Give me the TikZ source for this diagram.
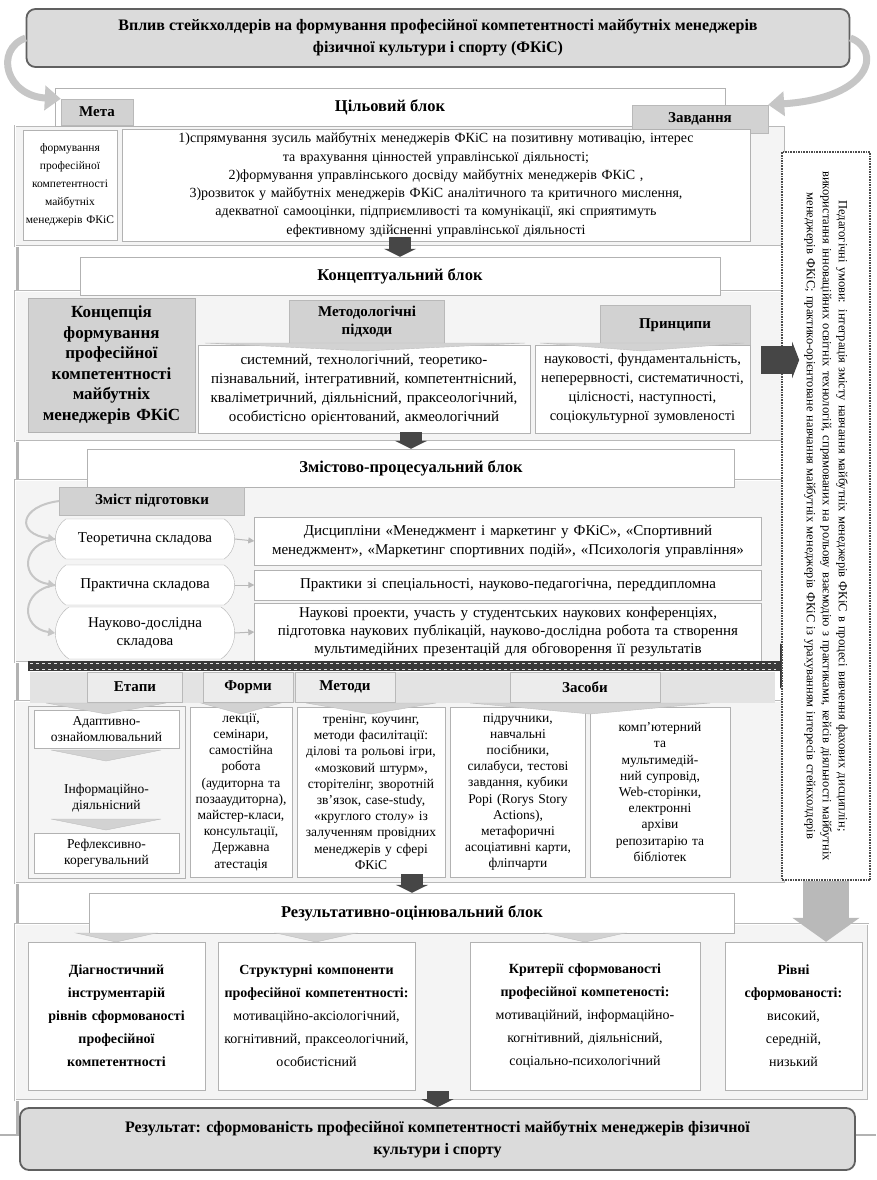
\documentclass[tikz,border=0pt]{standalone}
\usepackage{fontspec}
\setmainfont{Liberation Serif}
\usetikzlibrary{shapes.misc,arrows.meta,positioning}

\begin{document}
\begin{tikzpicture}
[x=1pt,y=-1pt,
  titleDecorate/.style={draw=gray!75!black,line width=1.8pt,fill=gray!28,rounded corners=9pt,align=center,font=\fontsize{16}{22}\selectfont\bfseries},
  frameDecorate/.style={draw=gray!55,double,double distance=1pt,fill=gray!9},
  headDecorate/.style={draw=gray!60,fill=white,minimum height=38,font=\fontsize{16.5}{20}\selectfont\bfseries},
  tabDecorate/.style={draw=gray!55,fill=gray!35,align=center,font=\fontsize{15}{18}\selectfont\bfseries},
  boxDecorate/.style={draw=gray!60,fill=white,align=center,inner sep=3pt,font=\fontsize{15}{19}\selectfont},
  colDecorate/.style={boxDecorate,font=\fontsize{13.5}{16.2}\selectfont},
  resDecorate/.style={boxDecorate,font=\fontsize{14}{23}\selectfont},
  partDecorate/.style={rounded rectangle,rounded rectangle arc length=110,draw=gray!60,fill=white,align=center,minimum width=186,font=\fontsize{15}{18}\selectfont},
  condDecorate/.style={rotate=-90,draw=gray!60!black,densely dotted,line width=1.6pt,fill=white,text width=720pt,minimum height=88,align=center,inner sep=4pt,font=\fontsize{12.5}{16}\selectfont},
  blockArrow/.style={draw=gray!55!black,line width=22pt,-{Triangle[length=8pt,width=32pt]}},
  sideLine/.style={draw=gray!55!black,line width=28pt,-{Triangle[length=7pt,width=36pt]}},
  bigArrow/.style={draw=gray!55,line width=46pt,-{Triangle[length=24pt,width=66pt]}},
  curveArrow/.style={draw=gray!45,line width=7pt,-{Triangle[length=16pt,width=24pt]}},
  bandArrow/.style={draw=gray!45!black,line width=10pt,-{Triangle[length=22pt,width=44pt]}},
  loopArrow/.style={draw=gray!45,line width=2pt,-{Triangle[length=7pt,width=8pt]}},
  smallArrow/.style={draw=gray!55,line width=1pt,-{Triangle[length=6pt,width=6pt]}},
  chevDecorate/.style={fill=gray!35,draw=gray!50}]
\useasboundingbox[fill=white] (0,0) rectangle (876,1180);

%% outer lines
\draw[gray!60,line width=3pt] (17,128) -- (17,1135);
\draw[gray!60,line width=1.5pt] (0,1135) -- (876,1135);

%% title
\node (title) at (438,38) [titleDecorate,minimum width=823,minimum height=58]
  {Вплив стейкхолдерів на формування професійної компетентності майбутніх менеджерів\\
   фізичної культури і спорту (ФКіС)};

%% goal block
\node (goalFrame) at (400,186) [frameDecorate,minimum width=770,minimum height=120] {};
\node (goalHead) at (390,107) [headDecorate,minimum width=670] {Цільовий блок};
\node (metaTab) at (97,112) [tabDecorate,minimum width=72,minimum height=26] {Мета};
\node (taskTab) at (700,119) [tabDecorate,minimum width=136,minimum height=28] {Завдання};
\node (goalBox) at (70,185) [boxDecorate,text width=92pt,minimum height=110,inner sep=1pt,font=\fontsize{11.5}{18}\selectfont]
  {формування\\професійної\\компетентності\\майбутніх\\менеджерів ФКіС};
\node (taskBox) at (436,185) [boxDecorate,text width=622pt,minimum height=112,font=\fontsize{14}{18.3}\selectfont]
  {1)спрямування зусиль майбутніх менеджерів ФКіС на позитивну мотивацію, інтерес\\
   та врахування цінностей управлінської діяльності;\\
   2)формування управлінського досвіду майбутніх менеджерів ФКіС ,\\
   3)розвиток у майбутніх менеджерів ФКіС аналітичного та критичного мислення,\\
   адекватної самооцінки, підприємливості та комунікації, які сприятимуть\\
   ефективному здійсненні управлінської діяльності};
\draw[curveArrow] (title.west) .. controls (-6,50) and (6,96) .. (metaTab.north west);
\draw[curveArrow] (title.east) .. controls (882,50) and (872,98) .. (taskTab.north east);

%% conceptual block
\node (conceptFrame) at (400,366) [frameDecorate,minimum width=770,minimum height=150] {};
\node (conceptHead) at (400,276) [headDecorate,minimum width=640] {Концептуальний блок};
\node (conceptBox) at (111.5,365) [boxDecorate,fill=gray!35,text width=161pt,minimum height=134,font=\fontsize{17}{20.5}\selectfont\bfseries]
  {Концепція\\формування\\професійної\\компетентності\\майбутніх\\менеджерів ФКіС};
\node (methTab) at (367,322) [tabDecorate,minimum width=155,minimum height=44] {Методологічні\\підходи};
\node (princTab) at (675,325) [tabDecorate,minimum width=150,minimum height=40] {Принципи};
\node (methBox) at (364,389) [boxDecorate,text width=326pt,minimum height=88]
  {системний, технологічний, теоретико-\\пізнавальний, інтегративний, компетентнісний,\\
   кваліметричний, діяльнісний, праксеологічний,\\особистісно орієнтований, акмеологічний};
\node (princBox) at (642.5,389) [boxDecorate,text width=209pt,minimum height=88,font=\fontsize{14.5}{19}\selectfont]
  {науковості, фундаментальність,\\неперервності, систематичності,\\цілісності, наступності,\\соціокультурної зумовленості};
\foreach \cx/\cy/\hw in {365/343/160, 642/343/102}
{
  \filldraw[chevDecorate] (\cx-\hw,\cy) -- (\cx+\hw,\cy) -- (\cx,\cy+8) -- cycle;
}

%% content and process block
\node (procFrame) at (400,571) [frameDecorate,minimum width=770,minimum height=182] {};
\node (procHead) at (411,468) [headDecorate,minimum width=647] {Змістово-процесуальний блок};
\node (contTab) at (152,501) [tabDecorate,minimum width=185,minimum height=28] {Зміст підготовки};
\node (theor) at (145,539) [partDecorate,minimum height=40] {Теоретична складова};
\node (pract) at (145,585) [partDecorate,minimum height=40] {Практична складова};
\node (resch) at (145,633) [partDecorate,minimum height=52] {Науково-дослідна\\складова};
\node (discBox) at (508,541) [boxDecorate,text width=501pt,minimum height=48]
  {Дисципліни «Менеджмент і маркетинг у ФКіС», «Спортивний\\
   менеджмент», «Маркетинг спортивних подій», «Психологія управління»};
\node (practBox) at (508,585) [boxDecorate,text width=501pt,minimum height=30]
  {Практики зі спеціальності, науково-педагогічна, переддипломна};
\node (reschBox) at (508,632) [boxDecorate,text width=501pt,minimum height=58,font=\fontsize{15}{18}\selectfont]
  {Наукові проекти, участь у студентських наукових конференціях,\\
   підготовка наукових публікацій, науково-дослідна робота та створення\\
   мультимедійних презентацій для обговорення її результатів};
\draw[loopArrow] (contTab.west) .. controls +(-40,5) and +(-40,-5) .. (theor.west);
\draw[loopArrow] (theor.west) .. controls +(-35,5) and +(-35,-5) .. (pract.west);
\draw[loopArrow] (pract.west) .. controls +(-35,5) and +(-35,-5) .. (resch.west);
\foreach \startnode/\endnode in {theor/discBox, pract/practBox, resch/reschBox}
{
  \draw[smallArrow] (\startnode.east) -- (\endnode.west);
}
\coordinate (bandL) at (28,666);
\coordinate (bandR) at (802,666);
\draw[bandArrow] (bandL) -- (bandR);
\draw[white!80!gray,line width=0.8pt,dash pattern=on 3pt off 3pt] (30,663) -- (776,663);
\draw[white!80!gray,line width=0.8pt,dash pattern=on 3pt off 3pt] (30,669) -- (776,669);

%% stages, forms, methods, means
\node (lowFrame) at (400,792) [frameDecorate,minimum width=770,minimum height=182] {};
\fill[gray!22] (30,672) rectangle (775,703);
\foreach \tabname/\x/\w/\txt in {
  stageTab/135/95/Етапи, formTab/248/90/Форми, methodTab/345/100/Методи, meanTab/585/150/Засоби}
{
  \node (\tabname) at (\x,687) [tabDecorate,fill=gray!15,minimum width=\w,minimum height=30] {\txt};
}
\node (stageFrame) at (106.5,792) [draw=gray!60,fill=gray!8,minimum width=157,minimum height=172] {};
\node (adapt) at (106.5,729) [boxDecorate,text width=139pt,minimum height=38,font=\fontsize{13.5}{16.2}\selectfont] {Адаптивно-\\ознайомлювальний};
\node (info) at (106.5,798) [align=center,font=\fontsize{13.5}{16.2}\selectfont] {Інформаційно-\\діяльнісний};
\node (reflex) at (106.5,853) [boxDecorate,text width=139pt,minimum height=40,font=\fontsize{13.5}{16.2}\selectfont] {Рефлексивно-\\корегувальний};
\foreach \nodename/\x/\tw/\txt in {
  forms/241/96/{лекції,\\семінари,\\самостійна\\робота\\(аудиторна та\\позааудиторна),\\майстер-класи,\\консультації,\\Державна\\атестація},
  methods/371/142/{тренінг, коучинг,\\методи фасилітації:\\ділові та рольові ігри,\\«мозковий штурм»,\\сторітелінг, зворотній\\зв’язок, case-study,\\«круглого столу» із\\залученням провідних\\менеджерів у сфері\\ФКіС},
  meansA/518/129/{підручники,\\навчальні\\посібники,\\силабуси, тестові\\завдання, кубики\\Рорі (Rorys Story\\Actions),\\метафоричні\\асоціативні карти,\\фліпчарти},
  meansB/660/134/{комп’ютерний\\та\\мультимедій-\\ний супровід,\\Web-сторінки,\\електронні\\архіви\\репозитарію та\\бібліотек}}
{
  \node (\nodename) at (\x,792) [colDecorate,text width=\tw pt,minimum height=170] {\txt};
}
\foreach \cx/\cy/\hw in {106/703/60, 241/703/40, 371/703/65, 590/703/120, 106/750/55, 106/819/55}
{
  \filldraw[chevDecorate] (\cx-\hw,\cy) -- (\cx+\hw,\cy) -- (\cx,\cy+11) -- cycle;
}

%% pedagogical conditions
\node (cond) at (826,516) [condDecorate]
  {Педагогічні умови: інтеграція змісту навчання майбутніх менеджерів ФКіС в процесі вивчення фахових дисциплін;\\
   використання інноваційних освітніх технологій, спрямованих на рольову взаємодію з практиками, кейсів діяльності майбутніх\\
   менеджерів ФКіС; практико-орієнтоване навчання майбутніх менеджерів ФКіС із урахуванням інтересів стейкхолдерів};
\coordinate (sideA) at ([yshift=6pt]conceptFrame.east);
\draw[sideLine] ([xshift=-24pt]sideA) -- ([xshift=14pt]sideA);

%% result block
\node (resFrame) at (441.5,1012) [frameDecorate,minimum width=853,minimum height=176] {};
\node (resHead) at (412,913) [headDecorate,minimum width=645,minimum height=40] {Результативно-оцінювальний блок};
\foreach \nodename/\x/\tw/\txt in {
  diag/116.5/171/{\textbf{Діагностичний}\\\textbf{інструментарій}\\\textbf{рівнів сформованості}\\\textbf{професійної}\\\textbf{компетентності}},
  struct/316.5/191/{\textbf{Структурні компоненти}\\\textbf{професійної компетентності:}\\мотиваційно-аксіологічний,\\когнітивний, праксеологічний,\\особистісний},
  crit/585/224/{\textbf{Критерії сформованості}\\\textbf{професійної компетеності:}\\мотиваційний, інформаційно-\\когнітивний, діяльнісний,\\соціально-психологічний},
  levels/793.5/131/{\textbf{Рівні}\\\textbf{сформованості:}\\високий,\\середній,\\низький}}
{
  \node (\nodename) at (\x,1016) [resDecorate,text width=\tw pt,minimum height=148] {\txt};
}
\foreach \cx/\cy/\hw in {116/933/40, 316/933/40, 585/933/40}
{
  \filldraw[chevDecorate] (\cx-\hw,\cy) -- (\cx+\hw,\cy) -- (\cx,\cy+9) -- cycle;
}
\coordinate (condEnd) at (cond.east |- levels.north);
\draw[bigArrow] (cond.east) -- (condEnd);

%% result
\node (result) at (437.5,1139) [titleDecorate,minimum width=835,minimum height=62]
  {Результат: сформованість професійної компетентності майбутніх менеджерів фізичної\\культури і спорту};

%% block arrows
\coordinate (aTop) at (goalFrame.south -| conceptHead.north);
\coordinate (bTop) at (conceptFrame.south -| procHead.north);
\coordinate (cTop) at (lowFrame.south -| resHead.north);
\coordinate (dTop) at (resFrame.south -| result.north);
\foreach \startnode/\endnode in {aTop/conceptHead, bTop/procHead, cTop/resHead, dTop/result}
{
  \draw[blockArrow] ([yshift=9pt]\startnode) -- (\endnode.north);
}
\end{tikzpicture}
\end{document}
